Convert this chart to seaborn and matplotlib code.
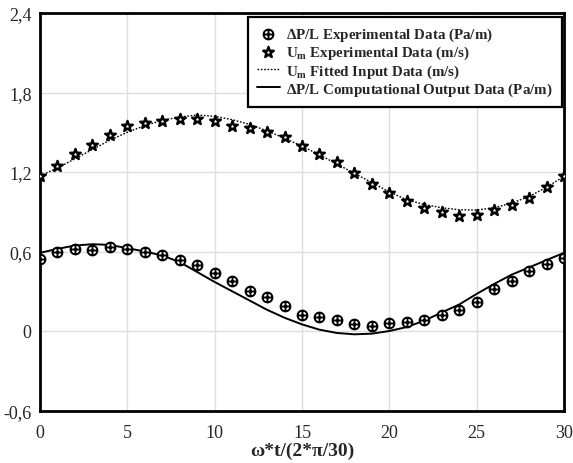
import matplotlib
matplotlib.use("Agg")
import matplotlib.pyplot as plt
from matplotlib.path import Path
import seaborn as sns
import pandas as pd
import numpy as np

# ---- data ----
t = list(range(0, 31))
dp_exp = [0.543, 0.594, 0.619, 0.614, 0.636, 0.619, 0.594, 0.574, 0.536, 0.498,
          0.435, 0.375, 0.304, 0.259, 0.186, 0.121, 0.103, 0.083, 0.053, 0.040,
          0.060, 0.065, 0.083, 0.121, 0.161, 0.221, 0.317, 0.380, 0.450, 0.508, 0.549]
um_exp = [1.172, 1.243, 1.336, 1.406, 1.481, 1.547, 1.567, 1.585, 1.598, 1.600,
          1.583, 1.545, 1.530, 1.504, 1.467, 1.399, 1.336, 1.273, 1.190, 1.109,
          1.039, 0.981, 0.928, 0.896, 0.870, 0.875, 0.915, 0.951, 1.006, 1.087, 1.167]
um_fit = [1.17, 1.23, 1.30, 1.37, 1.44, 1.50, 1.55, 1.59, 1.615, 1.63,
          1.62, 1.595, 1.56, 1.51, 1.455, 1.395, 1.33, 1.26, 1.19, 1.12,
          1.05, 0.99, 0.955, 0.93, 0.915, 0.913, 0.93, 0.965, 1.015, 1.085, 1.167]
dp_comp = [0.59, 0.62, 0.645, 0.655, 0.65, 0.625, 0.60, 0.57, 0.52, 0.445,
           0.37, 0.30, 0.23, 0.16, 0.10, 0.05, 0.01, -0.015, -0.025, -0.02,
           0.0, 0.03, 0.078, 0.14, 0.20, 0.28, 0.355, 0.425, 0.48, 0.535, 0.59]
xticks = [0, 5, 10, 15, 20, 25, 30]
yticks = [-0.6, 0, 0.6, 1.2, 1.8, 2.4]
ytick_labels = ["-0,6", "0", "0,6", "1,2", "1,8", "2,4"]

labels = [r"$\mathbf{\Delta}$P/L Experimental Data (Pa/m)",
          r"U$_{\mathbf{m}}$ Experimental Data (m/s)",
          r"U$_{\mathbf{m}}$ Fitted Input Data (m/s)",
          r"$\mathbf{\Delta}$P/L Computational Output Data (Pa/m)"]

df = pd.DataFrame({"t": t, "dp_exp": dp_exp, "um_exp": um_exp,
                   "um_fit": um_fit, "dp_comp": dp_comp})

# crossed-circle marker path
circ = Path.unit_circle()
cross = Path([(-1, 0), (1, 0), (0, -1), (0, 1)],
             [Path.MOVETO, Path.LINETO, Path.MOVETO, Path.LINETO])
oplus = Path.make_compound_path(circ, cross)

sns.set_style("whitegrid")
plt.rcParams['font.family'] = ['Liberation Serif', 'DejaVu Serif']
plt.rcParams['mathtext.fontset'] = 'custom'
plt.rcParams['mathtext.rm'] = 'Liberation Serif:bold'
plt.rcParams['mathtext.bf'] = 'Liberation Serif:bold'
plt.rcParams['mathtext.it'] = 'Liberation Serif:bold:italic'

fig = plt.figure(figsize=(5.73, 4.64), dpi=100)
ax = fig.add_axes([40/573, 1 - 411.5/464, (564-40)/573, (411.5-14)/464])

sns.lineplot(data=df, x="t", y="um_fit", ax=ax, color="black", lw=1.0,
             linestyle=(0, (1.2, 1.2)), label=labels[2], zorder=2)
sns.lineplot(data=df, x="t", y="dp_comp", ax=ax, color="black", lw=1.4,
             label=labels[3], zorder=2)
sns.scatterplot(data=df, x="t", y="dp_exp", ax=ax, marker=oplus, s=50,
                facecolor="white", edgecolor="black", linewidth=1.4,
                label=labels[0], zorder=3)
sns.scatterplot(data=df, x="t", y="um_exp", ax=ax, marker="*", s=65,
                facecolor="white", edgecolor="black", linewidth=1.7,
                label=labels[1], zorder=3)

ax.set_xlim(0, 30)
ax.set_ylim(-0.6, 2.4)
ax.set_xticks(xticks)
ax.set_yticks(yticks)
ax.set_yticklabels(ytick_labels)
ax.tick_params(labelsize=13, length=0)
ax.tick_params(axis="x", pad=10)
ax.tick_params(axis="y", pad=6)
ax.set_xlabel(r"ω*t/(2*π/30)", fontsize=14, fontweight="bold", labelpad=0)
ax.set_ylabel("")
ax.grid(True, color="#dddddd", lw=1.0)
for s in ax.spines.values():
    s.set_color("black")
    s.set_linewidth(2.0)

handles, labs = ax.get_legend_handles_labels()
order = [labs.index(l) for l in labels]
leg = ax.legend([handles[i] for i in order], [labs[i] for i in order],
                loc="upper right", bbox_to_anchor=(562/573, 1 - 18/464),
                bbox_transform=fig.transFigure,
                prop={"family": "Liberation Serif", "weight": "bold", "size": 10.8},
                frameon=True, fancybox=False, framealpha=1, edgecolor="black",
                handlelength=1.5, handletextpad=0.45, borderpad=0.6,
                labelspacing=0.05, borderaxespad=0.0)
leg.get_frame().set_linewidth(1.6)

fig.savefig("out.png", dpi=100)
